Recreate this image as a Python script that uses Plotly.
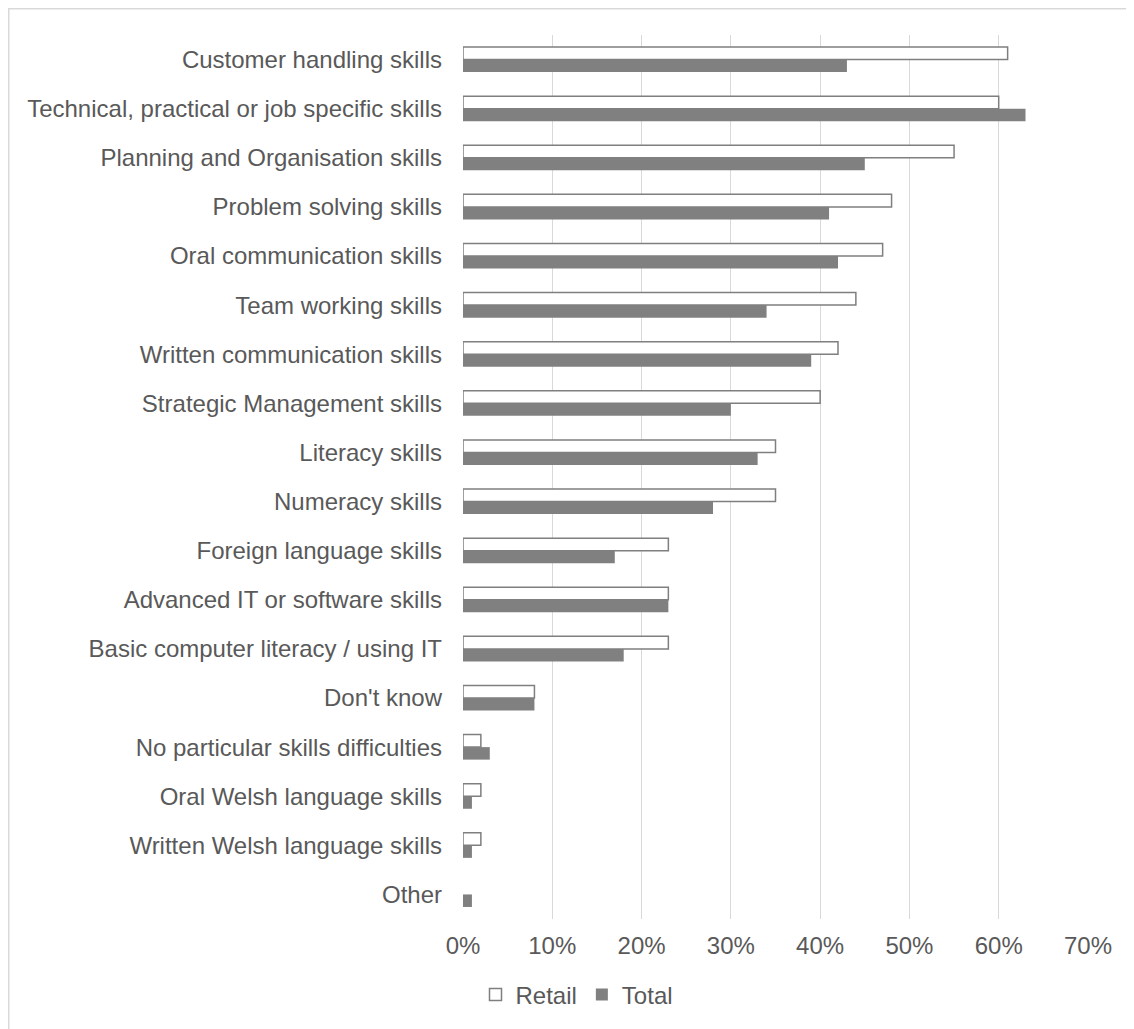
import plotly.graph_objects as go

categories = [
    "Customer handling skills",
    "Technical, practical or job specific skills",
    "Planning and Organisation skills",
    "Problem solving skills",
    "Oral communication skills",
    "Team working skills",
    "Written communication skills",
    "Strategic Management skills",
    "Literacy skills",
    "Numeracy skills",
    "Foreign language skills",
    "Advanced IT or software skills",
    "Basic computer literacy / using IT",
    "Don't know",
    "No particular skills difficulties",
    "Oral Welsh language skills",
    "Written Welsh language skills",
    "Other",
]
retail = [61, 60, 55, 48, 47, 44, 42, 40, 35, 35, 23, 23, 23, 8, 2, 2, 2, None]
total = [43, 63, 45, 41, 42, 34, 39, 30, 33, 28, 17, 23, 18, 8, 3, 1, 1, 1]
x_ticks = [0, 10, 20, 30, 40, 50, 60, 70]
x_tick_labels = ["0%", "10%", "20%", "30%", "40%", "50%", "60%", "70%"]

TEXT = "#595959"
FONT = "Liberation Sans, Arial, sans-serif"
FS = 24

fig = go.Figure()
fig.add_trace(go.Bar(
    y=categories, x=retail, orientation="h", name="Retail",
    marker=dict(color="#ffffff", line=dict(color="#7f7f7f", width=1.5)),
))
fig.add_trace(go.Bar(
    y=categories, x=total, orientation="h", name="Total",
    marker=dict(color="#808080", line=dict(width=0)),
))

# page offset (body margin) of 8px
OFF = 8
W, H = 1134, 1029
L = 463 - OFF
T = 35 - OFF
R = W + OFF - 1088
B = H + OFF - 919
pw, ph = W - L - R, H - T - B

def px(x):
    return (x - OFF - L) / pw

def py(y):
    return 1 - (y - OFF - T) / ph

fig.update_layout(
    width=W, height=H,
    margin=dict(l=L, r=R, t=T, b=B, pad=0),
    paper_bgcolor="white", plot_bgcolor="white",
    barmode="group", bargap=0.49, bargroupgap=0,
    font=dict(family=FONT, size=FS, color=TEXT),
    showlegend=True,
    legend=dict(
        orientation="h", x=px(577), y=py(995), xanchor="center", yanchor="middle",
        xref="paper", yref="paper", font=dict(size=FS, color=TEXT),
        itemwidth=30, tracegroupgap=0, bgcolor="rgba(0,0,0,0)",
    ),
    xaxis=dict(
        range=[0, 70], tickvals=x_ticks, ticktext=x_tick_labels,
        showgrid=True, gridcolor="#d9d9d9", gridwidth=1,
        zeroline=False, showline=False, ticks="",
        ticklabelstandoff=10, tickfont=dict(size=FS, color=TEXT),
        fixedrange=True,
    ),
    yaxis=dict(
        autorange="reversed", showgrid=False, zeroline=False,
        showline=False, ticks="", ticklabelstandoff=20,
        tickfont=dict(size=FS, color=TEXT),
    ),
    shapes=[dict(
        type="rect", xref="paper", yref="paper",
        x0=px(8.75), x1=px(1160), y0=py(8.75), y1=py(1060),
        line=dict(color="#d9d9d9", width=1.5), fillcolor="rgba(0,0,0,0)", layer="below",
    )],
)

fig.write_html("out.html")
